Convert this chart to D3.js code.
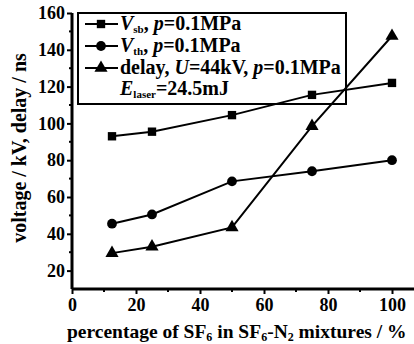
<!DOCTYPE html>
<html>
<head>
<meta charset="utf-8">
<script src="https://cdn.jsdelivr.net/npm/d3@7"></script>
<style>
body { margin: 0; background: #fff; }
text { font-family: "Liberation Serif", "DejaVu Serif", serif; font-weight: bold; fill: #000; }
.tick text { font-size: 18px; font-family: "Liberation Serif", serif; }
</style>
</head>
<body>
<div id="chart"></div>
<script>
let percent = [12.5, 25, 50, 75, 100];
let vsb = [93, 95.5, 104.5, 115.5, 122];
let vth = [45.5, 50.5, 68.5, 74, 80];
let delay = [29.5, 33, 43.5, 98.5, 147.5];
let xTicks = [0, 20, 40, 60, 80, 100];
let yTicks = [20, 40, 60, 80, 100, 120, 140, 160];

let margin = {top: 13, right: 0, bottom: 55, left: 72};
let width = 414 - margin.left - margin.right;
let height = 344 - margin.top - margin.bottom;
let svg = d3.select('#chart').append('svg')
    .attr('width', 414)
    .attr('height', 344)
    .append('g')
    .attr('transform', 'translate(' + margin.left + ',' + margin.top + ')');
let x = d3.scaleLinear()
    .range([0, 320])
    .domain([0, 100]);
let y = d3.scaleLinear()
    .range([height, 0])
    .domain([10, 160]);

let series = [
    {values: vsb, shape: d3.symbolSquare, size: 70},
    {values: vth, shape: d3.symbolCircle, size: 75},
    {values: delay, shape: d3.symbolTriangle, size: 75}
];
let line = d3.line()
    .x(function(d, i) { return x(percent[i]); })
    .y(function(d) { return y(d); });

series.forEach(function(s) {
    svg.append('path').datum(s.values) // series line
        .attr('fill', 'none')
        .attr('stroke', '#000')
        .attr('stroke-width', 2)
        .attr('d', line);
    svg.append('g').selectAll('path') // markers
        .data(s.values).enter().append('path')
        .attr('transform', function(d, i) { return 'translate(' + x(percent[i]) + ',' + y(d) + ')'; })
        .attr('d', d3.symbol().type(s.shape).size(s.size))
        .attr('fill', '#000');
});

// minor ticks
svg.append('g').selectAll('line')
    .data(d3.range(30, 160, 20)).enter().append('line')
    .attr('x1', -3).attr('x2', 0)
    .attr('y1', function(d) { return y(d); })
    .attr('y2', function(d) { return y(d); })
    .attr('stroke', '#000').attr('stroke-width', 2);
svg.append('g').selectAll('line')
    .data(d3.range(10, 110, 20)).enter().append('line')
    .attr('y1', height).attr('y2', height + 3)
    .attr('x1', function(d) { return x(d); })
    .attr('x2', function(d) { return x(d); })
    .attr('stroke', '#000').attr('stroke-width', 2);

let xAxis = svg.append('g') // x axis
    .attr('transform', 'translate(0,' + height + ')')
    .call(d3.axisBottom(x).tickValues(xTicks).tickSize(5).tickPadding(4));
xAxis.select('.domain').attr('d', 'M0,0H' + width).attr('stroke-width', 3);
let yAxis = svg.append('g') // y axis
    .call(d3.axisLeft(y).tickValues(yTicks).tickSize(5).tickPadding(2));
yAxis.select('.domain').attr('d', 'M0,' + height + 'V0').attr('stroke-width', 3);
svg.selectAll('.tick line').attr('stroke-width', 2);

svg.append('text') // x axis label
    .attr('x', -5)
    .attr('y', height + 49)
    .style('font-size', '19.5px')
    .html('percentage of SF<tspan dy="3" font-size="12">6</tspan><tspan dy="-3"> in SF</tspan><tspan dy="3" font-size="12">6</tspan><tspan dy="-3">-N</tspan><tspan dy="3" font-size="12">2</tspan><tspan dy="-3"> mixtures / %</tspan>');
svg.append('text') // y axis label
    .attr('transform', 'rotate(-90)')
    .attr('x', -135)
    .attr('y', -46)
    .attr('text-anchor', 'middle')
    .style('font-size', '20px')
    .text('voltage / kV, delay / ns');

// legend
let legend = svg.append('g').attr('transform', 'translate(6,0)');
legend.append('rect')
    .attr('width', 268).attr('height', 91)
    .attr('fill', 'none').attr('stroke', '#000').attr('stroke-width', 2);
let labels = [
    '<tspan font-style="italic">V</tspan><tspan dy="3" font-size="11">sb</tspan><tspan dy="-3">, </tspan><tspan font-style="italic">p</tspan>=0.1MPa',
    '<tspan font-style="italic">V</tspan><tspan dy="3" font-size="11">th</tspan><tspan dy="-3">, </tspan><tspan font-style="italic">p</tspan>=0.1MPa',
    'delay, <tspan font-style="italic">U</tspan>=44kV, <tspan font-style="italic">p</tspan>=0.1MPa'
];
series.forEach(function(s, i) {
    let cy = 11 + i * 22;
    legend.append('line')
        .attr('x1', 7).attr('x2', 40).attr('y1', cy).attr('y2', cy)
        .attr('stroke', '#000').attr('stroke-width', 2);
    legend.append('path')
        .attr('transform', 'translate(23,' + cy + ')')
        .attr('d', d3.symbol().type(s.shape).size(s.size))
        .attr('fill', '#000');
    legend.append('text')
        .attr('x', 42).attr('y', cy + 6)
        .style('font-size', '20px')
        .html(labels[i]);
});
legend.append('text')
    .attr('x', 42).attr('y', 82)
    .style('font-size', '20px')
    .html('<tspan font-style="italic">E</tspan><tspan dy="3" font-size="11">laser</tspan><tspan dy="-3">=24.5mJ</tspan>');
</script>
</body>
</html>
